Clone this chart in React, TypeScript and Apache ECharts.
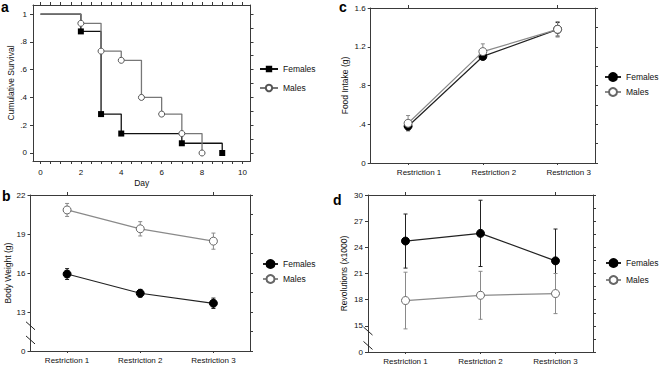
import React, { useEffect, useRef } from 'react';
import * as echarts from 'echarts';

const FONT = '"Liberation Sans", Arial, sans-serif';
const AX = '#3a3a3a';
const TXT = '#111';

// ---------- Panel a: survival ----------
const dayLabelTicks = [0, 2, 4, 6, 8, 10];
const dayTickMarks = [0, 0.5, 1, 1.5, 2, 2.5, 3, 3.5, 4, 4.5, 5, 5.5, 6, 6.5, 7, 7.5, 8, 8.5, 9, 9.5, 10];
const survivalTicks = [0, 0.2, 0.4, 0.6, 0.8, 1];
const survivalTickLabels = ['0', '.2', '.4', '.6', '.8', '1'];
const survivalRightTicks = [0, 0.1, 0.2, 0.3, 0.4, 0.5, 0.6, 0.7, 0.8, 0.9, 1];
const femaleDays = [0, 2, 3, 4, 7, 9];
const femaleSurvival = [1, 0.875, 0.28, 0.14, 0.07, 0];
const maleDays = [0, 2, 3, 4, 5, 6, 7, 8];
const maleSurvival = [1, 0.933, 0.733, 0.667, 0.4, 0.28, 0.14, 0];

// ---------- shared categories ----------
const restrictions = ['Restriction 1', 'Restriction 2', 'Restriction 3'];

// ---------- Panel b: body weight ----------
const weightTicks = [10, 13, 16, 19, 22];
const weightTickLabels = ['0', '13', '16', '19', '22'];
const weightRightTicks = [10, 11.5, 13, 14.5, 16, 17.5, 19, 20.5, 22];
const weightBreaks = [11.94, 10.85];
const femaleWeight = [15.92, 14.44, 13.67];
const femaleWeightErr = [0.42, 0.3, 0.4];
const maleWeight = [20.85, 19.4, 18.45];
const maleWeightErr = [0.5, 0.55, 0.62];

// ---------- Panel c: food intake ----------
const foodTicks = [0, 0.4, 0.8, 1.2, 1.6];
const foodTickLabels = ['0', '.4', '.8', '1.2', '1.6'];
const foodRightTicks = [0, 0.2, 0.4, 0.6, 0.8, 1.0, 1.2, 1.4, 1.6];
const femaleFood = [0.38, 1.1, 1.38];
const femaleFoodErr = [0.04, 0.03, 0.07];
const maleFood = [0.41, 1.15, 1.38];
const maleFoodErr = [0.08, 0.08, 0.08];

// ---------- Panel d: revolutions ----------
const revTicks = [12, 15, 18, 21, 24, 27, 30];
const revTickLabels = ['0', '15', '18', '21', '24', '27', '30'];
const revRightTicks = [12, 13.5, 15, 16.5, 18, 19.5, 21, 22.5, 24, 25.5, 27, 28.5, 30];
const revBreaks = [14.4, 12.75];
const femaleRev = [24.72, 25.6, 22.45];
const femaleRevErr = [3.1, 3.8, 3.65];
const maleRev = [17.9, 18.5, 18.7];
const maleRevErr = [3.25, 2.75, 2.3];

const labelFor = (ticks: number[], labels: string[]) => (v: number) => {
  let best = 0;
  for (let i = 0; i < ticks.length; i++) if (Math.abs(ticks[i] - v) < Math.abs(ticks[best] - v)) best = i;
  return labels[best];
};

const axisLine = { show: true, onZero: false, lineStyle: { color: AX, width: 1 } };

function errorBars(values: number[], errs: number[], color: string, z: number) {
  return {
    type: 'custom',
    silent: true,
    z,
    xAxisIndex: 0,
    yAxisIndex: 0,
    data: values.map((v, i) => [i, v - errs[i], v + errs[i]]),
    encode: { x: 0, y: [1, 2] },
    renderItem: (params: any, api: any) => {
      const x = api.value(0);
      const lo = api.coord([x, api.value(1)]);
      const hi = api.coord([x, api.value(2)]);
      const w = 2;
      const style = { stroke: color, lineWidth: 1 };
      return {
        type: 'group',
        children: [
          { type: 'line', shape: { x1: lo[0], y1: lo[1], x2: hi[0], y2: hi[1] }, style },
          { type: 'line', shape: { x1: lo[0] - w, y1: lo[1], x2: lo[0] + w, y2: lo[1] }, style },
          { type: 'line', shape: { x1: hi[0] - w, y1: hi[1], x2: hi[0] + w, y2: hi[1] }, style },
        ],
      };
    },
  };
}

function letter(t: string, x: number, y: number) {
  return {
    type: 'text',
    x,
    y,
    style: { text: t, fontSize: 14, fontWeight: 'bold', fontFamily: FONT, fill: '#000', verticalAlign: 'top' },
  };
}

const legendBase = {
  orient: 'vertical',
  data: ['Females', 'Males'],
  padding: 0,
  itemWidth: 16,
  itemHeight: 10,
  textStyle: { fontSize: 8.5, color: TXT, fontFamily: FONT },
};

function categoryPanel(cfg: {
  grid: any;
  min: number;
  max: number;
  ticks: number[];
  labels: string[];
  rightTicks: number[];
  name: string;
  nameGap: number;
  labelPad?: number;
  female: number[];
  femaleErr: number[];
  male: number[];
  maleErr: number[];
  legend: any;
  letter: any;
}) {
  return {
    animation: false,
    textStyle: { fontFamily: FONT },
    grid: { ...cfg.grid, outerBoundsMode: 'none', containLabel: false },
    legend: { ...legendBase, ...cfg.legend },
    graphic: [cfg.letter],
    xAxis: [
      {
        type: 'category',
        data: restrictions,
        position: 'bottom',
        boundaryGap: true,
        axisLine,
        axisTick: { show: true, alignWithLabel: true, length: 2, lineStyle: { color: AX } },
        axisLabel: {
          fontSize: 8,
          color: TXT,
          margin: 5,
          padding: cfg.labelPad ? [0, 0, 0, cfg.labelPad] : 0,
        },
        splitLine: { show: false },
      },
      {
        type: 'category',
        data: restrictions,
        position: 'top',
        boundaryGap: true,
        axisLine,
        axisTick: { show: true, alignWithLabel: true, length: 3, lineStyle: { color: AX } },
        axisLabel: { show: false },
        splitLine: { show: false },
      },
    ],
    yAxis: [
      {
        type: 'value',
        position: 'left',
        min: cfg.min,
        max: cfg.max,
        name: cfg.name,
        nameLocation: 'middle',
        nameGap: cfg.nameGap,
        nameMoveOverlap: false,
        nameTextStyle: { fontSize: 8.5, color: TXT, fontFamily: FONT },
        axisLine,
        axisTick: { show: true, customValues: cfg.ticks, length: 3, lineStyle: { color: AX } },
        axisLabel: { customValues: cfg.ticks, formatter: labelFor(cfg.ticks, cfg.labels), fontSize: 8, color: TXT, margin: 5 },
        splitLine: { show: false },
      },
      {
        type: 'value',
        position: 'right',
        min: cfg.min,
        max: cfg.max,
        axisLine,
        axisTick: { show: true, customValues: cfg.rightTicks, length: 3, lineStyle: { color: AX } },
        axisLabel: { show: false },
        splitLine: { show: false },
      },
    ],
    series: [
      errorBars(cfg.female, cfg.femaleErr, '#222', 1),
      errorBars(cfg.male, cfg.maleErr, '#8a8a8a', 1),
      {
        type: 'line',
        name: 'Females',
        xAxisIndex: 0,
        yAxisIndex: 0,
        data: cfg.female,
        symbol: 'circle',
        symbolSize: 8,
        z: 3,
        lineStyle: { color: '#222', width: 1.2 },
        itemStyle: { color: '#000', borderColor: '#000', borderWidth: 1 },
      },
      {
        type: 'line',
        name: 'Males',
        xAxisIndex: 0,
        yAxisIndex: 0,
        data: cfg.male,
        symbol: 'circle',
        symbolSize: 8,
        z: 4,
        lineStyle: { color: '#8a8a8a', width: 1.2 },
        itemStyle: { color: '#fff', borderColor: '#666', borderWidth: 1 },
      },
    ],
  };
}

const optionA: any = {
  animation: false,
  textStyle: { fontFamily: FONT },
  grid: { left: 33, top: 5, width: 217.5, height: 156, outerBoundsMode: 'none', containLabel: false },
  legend: { ...legendBase, left: 259, top: 64.5, itemGap: 10, itemWidth: 18, itemHeight: 8 },
  graphic: [letter('a', 1, 0)],
  xAxis: [
    {
      type: 'value',
      position: 'bottom',
      min: -0.37,
      max: 10.4,
      name: 'Day',
      nameLocation: 'middle',
      nameGap: 17,
      nameMoveOverlap: false,
      nameTextStyle: { fontSize: 8.5, color: TXT, fontFamily: FONT },
      axisLine,
      axisTick: { show: true, customValues: dayTickMarks, length: 3, lineStyle: { color: AX } },
      axisLabel: { customValues: dayLabelTicks, fontSize: 8, color: TXT, margin: 7 },
      splitLine: { show: false },
    },
    {
      type: 'value',
      position: 'top',
      min: -0.37,
      max: 10.4,
      axisLine,
      axisTick: { show: true, customValues: dayTickMarks, length: 3, lineStyle: { color: AX } },
      axisLabel: { show: false },
      splitLine: { show: false },
    },
  ],
  yAxis: [
    {
      type: 'value',
      position: 'left',
      min: -0.0576,
      max: 1.065,
      name: 'Cumulative Survival',
      nameLocation: 'middle',
      nameGap: 18,
      nameMoveOverlap: false,
      nameTextStyle: { fontSize: 8.5, color: TXT, fontFamily: FONT },
      axisLine,
      axisTick: { show: true, customValues: survivalTicks, length: 3, lineStyle: { color: AX } },
      axisLabel: {
        customValues: survivalTicks,
        formatter: labelFor(survivalTicks, survivalTickLabels),
        fontSize: 8,
        color: TXT,
        margin: 6,
      },
      splitLine: { show: false },
    },
    {
      type: 'value',
      position: 'right',
      min: -0.0576,
      max: 1.065,
      axisLine,
      axisTick: { show: true, customValues: survivalRightTicks, length: 3, lineStyle: { color: AX } },
      axisLabel: { show: false },
      splitLine: { show: false },
    },
  ],
  series: [
    {
      type: 'line',
      name: 'Females',
      step: 'end',
      xAxisIndex: 0,
      yAxisIndex: 0,
      symbol: 'rect',
      symbolSize: 6,
      data: femaleDays.map((d, i) => ({ value: [d, femaleSurvival[i]], symbol: i === 0 ? 'none' : 'rect' })),
      lineStyle: { color: '#111', width: 1.3 },
      itemStyle: { color: '#000' },
      z: 3,
    },
    {
      type: 'line',
      name: 'Males',
      step: 'end',
      xAxisIndex: 0,
      yAxisIndex: 0,
      symbol: 'circle',
      symbolSize: 6,
      data: maleDays.map((d, i) => ({ value: [d, maleSurvival[i]], symbol: i === 0 ? 'none' : 'circle' })),
      lineStyle: { color: '#777', width: 1.3 },
      itemStyle: { color: '#fff', borderColor: '#555', borderWidth: 1 },
      z: 4,
    },
  ],
};

const optionB: any = categoryPanel({
  grid: { left: 30.5, top: 11, width: 219.5, height: 156 },
  min: 10,
  max: 22,
  ticks: weightTicks,
  labels: weightTickLabels,
  rightTicks: weightRightTicks,
  name: 'Body Weight (g)',
  nameGap: 18,
  female: femaleWeight,
  femaleErr: femaleWeightErr,
  male: maleWeight,
  maleErr: maleWeightErr,
  legend: { left: 262, top: 75, itemGap: 5, itemWidth: 15 },
  letter: letter('b', 2, 5),
});

const optionC: any = categoryPanel({
  grid: { left: 40.7, top: 8, width: 224.3, height: 155 },
  min: 0,
  max: 1.6,
  ticks: foodTicks,
  labels: foodTickLabels,
  rightTicks: foodRightTicks,
  name: 'Food Intake (g)',
  nameGap: 21,
  labelPad: 22,
  female: femaleFood,
  femaleErr: femaleFoodErr,
  male: maleFood,
  maleErr: maleFoodErr,
  legend: { left: 274, top: 72, itemGap: 5 },
  letter: letter('c', 9, 0),
});

const optionD: any = categoryPanel({
  grid: { left: 38, top: 11, width: 225, height: 157 },
  min: 12,
  max: 30,
  ticks: revTicks,
  labels: revTickLabels,
  rightTicks: revRightTicks,
  name: 'Revolutions (x1000)',
  nameGap: 20,
  female: femaleRev,
  femaleErr: femaleRevErr,
  male: maleRev,
  maleErr: maleRevErr,
  legend: { left: 275, top: 74, itemGap: 7, itemWidth: 15 },
  letter: letter('d', 3, 9),
});

function Panel(props: { left: number; top: number; width: number; height: number; option: any; breaks?: number[] }) {
  const ref = useRef<HTMLDivElement>(null);
  useEffect(() => {
    const chart = echarts.init(ref.current as HTMLDivElement, undefined, { renderer: 'svg' });
    chart.setOption(props.option);
    if (props.breaks) {
      const gx = props.option.grid.left;
      const marks = props.breaks.map((v) => {
        const y = chart.convertToPixel({ yAxisIndex: 0 }, v) as number;
        return {
          type: 'line',
          z: 100,
          shape: { x1: gx - 4.5, y1: y - 4, x2: gx + 4.5, y2: y + 4 },
          style: { stroke: '#222', lineWidth: 1 },
        };
      });
      chart.setOption({ graphic: [...props.option.graphic, ...marks] });
    }
    return () => chart.dispose();
  }, []);
  return (
    <div
      ref={ref}
      style={{ position: 'absolute', left: props.left, top: props.top, width: props.width, height: props.height }}
    />
  );
}

export default function App() {
  return (
    <div style={{ position: 'absolute', left: 0, top: 0, width: 660, height: 367, background: '#fff', overflow: 'hidden' }}>
      <Panel left={0} top={0} width={330} height={194} option={optionA} />
      <Panel left={330} top={0} width={330} height={184} option={optionC} />
      <Panel left={0} top={184} width={330} height={183} option={optionB} breaks={weightBreaks} />
      <Panel left={330} top={184} width={330} height={183} option={optionD} breaks={revBreaks} />
    </div>
  );
}
